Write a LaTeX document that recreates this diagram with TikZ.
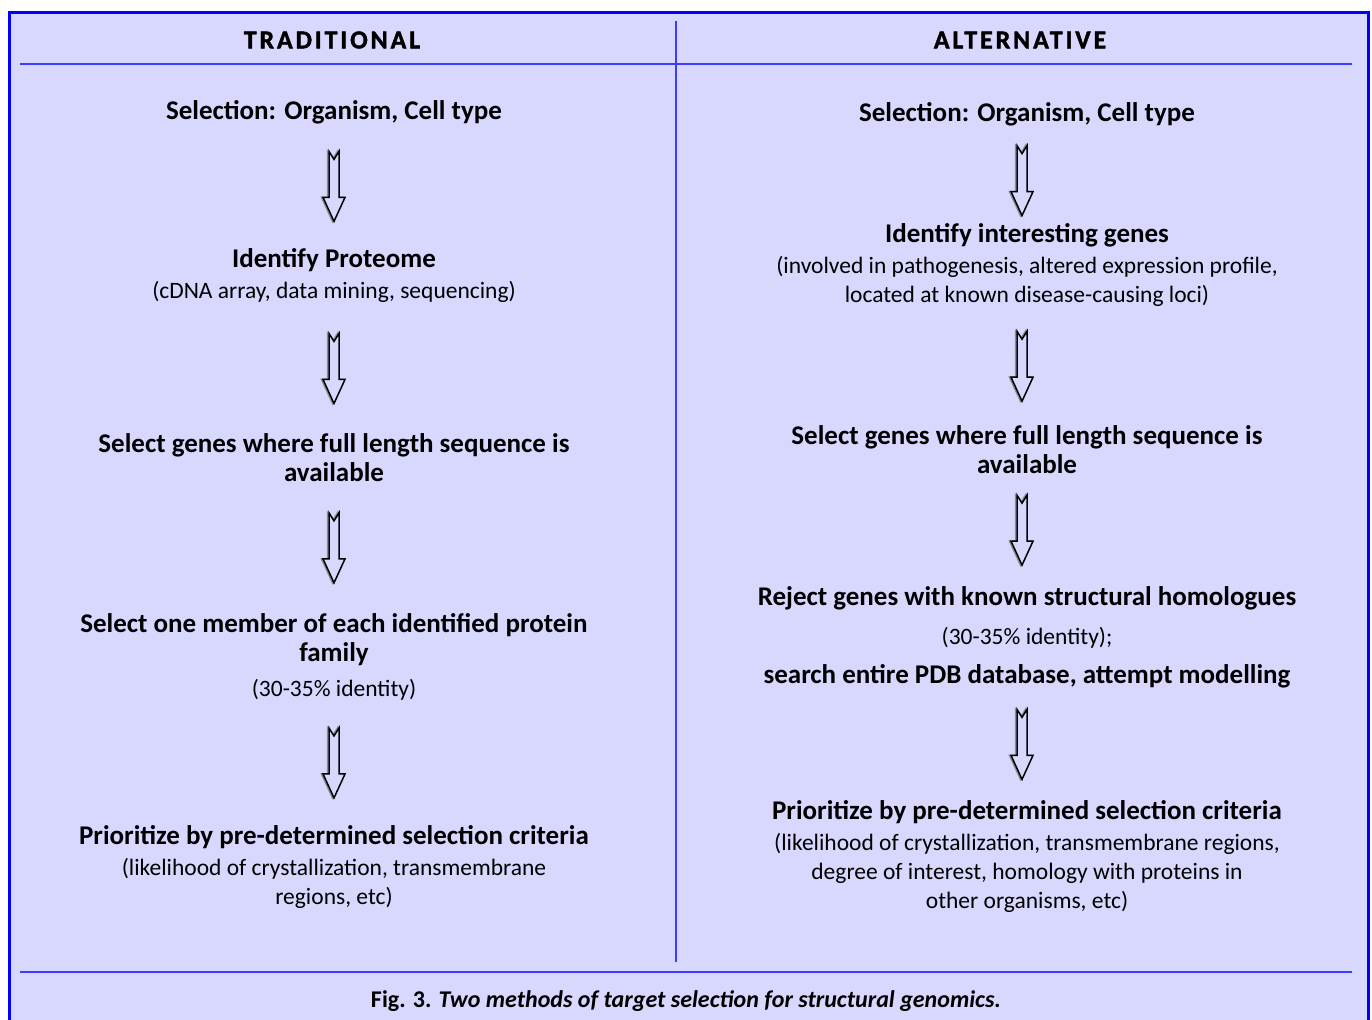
\documentclass[tikz,border=0pt]{standalone}
\usepackage{fontspec}
\setmainfont{Carlito}
\usetikzlibrary{calc}
\definecolor{panel}{RGB}{216,216,255}
\definecolor{rulecol}{RGB}{60,60,255}
\newcommand{\hd}[1]{{\fontsize{27}{28}\selectfont\bfseries #1}}
\newcommand{\arrdx}{0pt}
\newcommand{\arrdy}{0pt}
\tikzset{
  arrdx/.store in = \arrdx,
  arrdy/.store in = \arrdy,
  colhead/.style = {font=\bfseries\fontsize{26}{28}\selectfont\addfontfeature{LetterSpace=11,FakeBold=1.5}, inner sep=0pt},
  textblock/.style = {align=center, inner sep=0pt, font=\fontsize{23.5}{29}\selectfont},
  hollow/.style = {draw=black, line width=1.5pt, fill=panel, line join=miter,
    preaction={draw=black!45, line width=1.5pt, transform canvas={xshift=-1.5pt}},
    to path={let \p1=($(\tikztostart.south)!0.5!(\tikztotarget.north)+(\arrdx,\arrdy)$) in
      (\x1-5pt,\y1+35pt) -- (\x1,\y1+27pt) -- (\x1+5pt,\y1+35pt) -- (\x1+5pt,\y1-11pt)
      -- (\x1+11pt,\y1-11pt) -- (\x1,\y1-35pt) -- (\x1-11pt,\y1-11pt)
      -- (\x1-5pt,\y1-11pt) -- cycle}}
}
\begin{document}
\begin{tikzpicture}[x=1pt, y=-1pt]
  \useasboundingbox (0,0) rectangle (1372,1019);
  % frame and rules
  \fill[panel] (9,13) rectangle (1368,1030);
  \draw[blue, line width=3pt] (9,1030) -- (9,13) -- (1368,13) -- (1368,1030);
  \draw[rulecol, line width=2pt] (20,64) -- (1352,64);
  \draw[rulecol, line width=2pt] (20,972) -- (1352,972);
  \draw[rulecol, line width=1.5pt] (676,21) -- (676,962);
  % headings
  \node[colhead] (trad) at (332,40) {TRADITIONAL};
  \node[colhead] (alt) at (1020,40) {ALTERNATIVE};
  % traditional column
  \node[textblock] (tsel) at (334,112) {\hd{Selection: Organism, Cell type}};
  \node[textblock] (tprot) at (334,276) {\hd{Identify Proteome}\\[2pt]
    (cDNA array, data mining, sequencing)};
  \node[textblock] (tgenes) at (334,458) {\hd{Select genes where full length sequence is}\\
    \hd{available}};
  \node[textblock] (tmember) at (334,657) {\hd{Select one member of each identified protein}\\
    \hd{family}\\[6pt] (30-35\% identity)};
  \node[textblock] (tprio) at (334,867) {\hd{Prioritize by pre-determined selection criteria}\\[2pt]
    (likelihood of crystallization, transmembrane\\ regions, etc)};
  % alternative column
  \node[textblock] (asel) at (1027,114) {\hd{Selection: Organism, Cell type}};
  \node[textblock] (agenes) at (1027,265) {\hd{Identify interesting genes}\\[2pt]
    (involved in pathogenesis, altered expression profile,\\
    located at known disease-causing loci)};
  \node[textblock] (afull) at (1027,450) {\hd{Select genes where full length sequence is}\\
    \hd{available}};
  \node[textblock] (areject) at (1027,637) {\hd{Reject genes with known structural homologues}\\[10pt]
    (30-35\% identity);\\[10pt]
    \hd{search entire PDB database, attempt modelling}};
  \node[textblock] (aprio) at (1027,857) {\hd{Prioritize by pre-determined selection criteria}\\[2pt]
    (likelihood of crystallization, transmembrane regions,\\
    degree of interest, homology with proteins in\\ other organisms, etc)};
  % hollow arrows
  \draw[hollow] (tsel) to (tprot);
  \draw[hollow] (tprot) to (tgenes);
  \draw[hollow] (tgenes) to (tmember);
  \draw[hollow] (tmember) to (tprio);
  \draw[hollow, arrdx=-5pt, arrdy=-6pt] (asel) to (agenes);
  \draw[hollow, arrdx=-5pt, arrdy=0pt] (agenes) to (afull);
  \draw[hollow, arrdx=-5pt, arrdy=0pt] (afull) to (areject);
  \draw[hollow, arrdx=-5pt, arrdy=0pt] (areject) to (aprio);
  % caption
  \node[font=\bfseries\fontsize{24}{26}\selectfont, inner sep=0pt] (cap) at (686,1001)
    {Fig. 3. \textit{Two methods of target selection for structural genomics.}};
\end{tikzpicture}
\end{document}
